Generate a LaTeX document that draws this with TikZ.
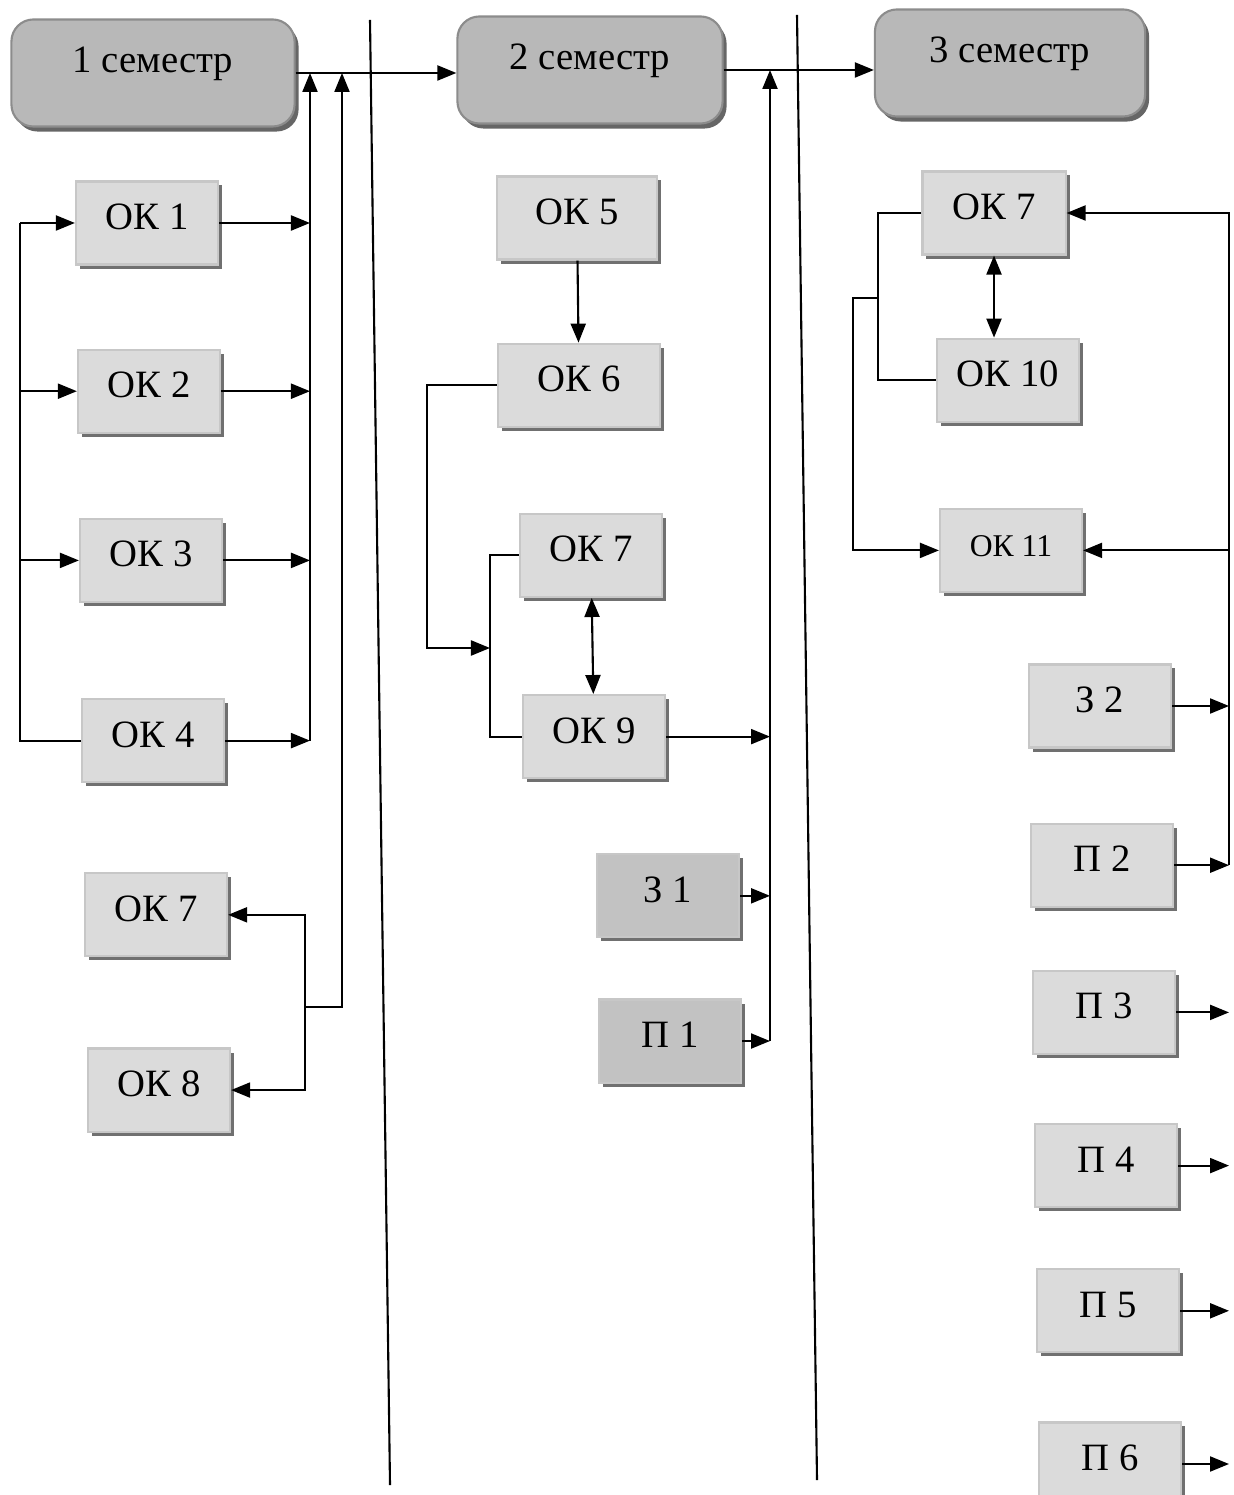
\documentclass[tikz,border=0pt]{standalone}
\usepackage{fontspec}
\setmainfont{Liberation Serif}
\usetikzlibrary{arrows.meta, positioning, shadows}

\begin{document}
\begin{tikzpicture}[x=0.01cm, y=-0.01cm, semithick,
  sembox/.style={rectangle, rounded corners=2.2mm, draw=black!45, fill=black!28,
    minimum width=2.7cm, minimum height=1.07cm, inner sep=0pt,
    text height=3mm, text depth=3mm, font=\fontsize{11}{13}\selectfont,
    drop shadow={shadow xshift=0.4mm, shadow yshift=-0.5mm, fill=black!75, opacity=0.8}},
  okbox/.style={rectangle, draw=black!22, fill=black!14,
    minimum width=1.42cm, minimum height=0.83cm, inner sep=0pt,
    text height=2.8mm, text depth=1.5mm, font=\fontsize{11}{13}\selectfont,
    drop shadow={shadow xshift=0.4mm, shadow yshift=-0.4mm, fill=black!70, opacity=0.8}},
  darkbox/.style={okbox, fill=black!24},
  arr/.style={-{Triangle[length=1.9mm, width=1.5mm]}},
  darr/.style={{Triangle[length=1.9mm, width=1.5mm]}-{Triangle[length=1.9mm, width=1.5mm]}}]
  \useasboundingbox (0,0) rectangle (1233,1495);

  % dividers
  \draw (370,20) -- (390,1485);
  \draw (797,15) -- (817,1480);

  % 1 семестр
  \node[sembox, minimum width=2.83cm] (sem1) at (153,73) {1 семестр};
  \node[okbox] (ok1) at (147,223) {ОК 1};
  \node[okbox] (ok2) [below=8.3mm of ok1, xshift=0.2mm] {ОК 2};
  \node[okbox] (ok3) [below=8.4mm of ok2, xshift=0.2mm] {ОК 3};
  \node[okbox] (ok4) [below=9.5mm of ok3, xshift=0.2mm] {ОК 4};
  \node[okbox] (ok7a) [below=8.9mm of ok4, xshift=0.3mm] {ОК 7};
  \node[okbox] (ok8) [below=9mm of ok7a, xshift=0.3mm] {ОК 8};

  % 2 семестр
  \node[sembox, minimum width=2.65cm] (sem2) at (590,70) {2 семестр};
  \node[okbox, minimum width=1.6cm] (ok5) at (577,218) {ОК 5};
  \node[okbox, minimum width=1.62cm] (ok6) [below=8.2mm of ok5, xshift=0.2mm] {ОК 6};
  \node[okbox] (ok7b) [below=8.5mm of ok6, xshift=1.2mm] {ОК 7};
  \node[okbox] (ok9) [below=9.6mm of ok7b, xshift=0.3mm] {ОК 9};
  \node[darkbox] (z1) [below=7.4mm of ok9, xshift=7.4mm] {З 1};
  \node[darkbox] (p1) [below=6mm of z1, xshift=0.2mm] {П 1};

  % 3 семестр
  \node[sembox] (sem3) at (1010,63) {3 семестр};
  \node[okbox, minimum width=1.43cm] (ok7c) at (994,213) {ОК 7};
  \node[okbox] (ok10) [below=8.2mm of ok7c, xshift=1.4mm] {ОК 10};
  \node[okbox, font=\fontsize{9}{11}\selectfont] (ok11) [below=8.5mm of ok10, xshift=0.3mm] {ОК 11};
  \node[okbox] (z2) at (1100,706) {З 2};
  \node[okbox] (p2) [below=7.4mm of z2, xshift=0.2mm] {П 2};
  \node[okbox] (p3) [below=6.2mm of p2, xshift=0.2mm] {П 3};
  \node[okbox] (p4) [below=6.8mm of p3, xshift=0.2mm] {П 4};
  \node[okbox] (p5) [below=6mm of p4, xshift=0.2mm] {П 5};
  \node[okbox] (p6) [below=6.8mm of p5, xshift=0.2mm] {П 6};

  \coordinate (b1) at (310,73);
  \coordinate (b2) at (342,73);
  \coordinate (lb) at (20,0);
  \coordinate (br1) at (305,1007);
  \coordinate (mb) at (490,648);
  \coordinate (rb) at (770,70);
  \coordinate (rk) at (878,298);
  \coordinate (rr) at (1229,0);

  % first column
  \draw[arr] (sem1.east) -- (sem1.east -| sem2.west);
  \draw (ok4.west) -- (ok4.west -| lb) -- (ok1.west -| lb);
  \foreach \n in {ok1,ok2,ok3}
    \draw[arr] (\n.west -| lb) -- (\n.west);
  \foreach \n in {ok1,ok2,ok3,ok4}
    \draw[arr] (\n.east) -- (\n.east -| b1);
  \draw[arr] (ok4.east -| b1) -- (b1);
  \draw[darr] (ok7a.east) -| (br1) |- (ok8.east);
  \draw[arr] (br1) -| (b2);

  % second column
  \draw[arr] (sem2.east) -- (sem2.east -| sem3.west);
  \draw[arr] (ok5) -- (ok6);
  \draw[arr] (ok6.west) -- ++(-70,0) |- (mb);
  \draw (ok7b.west) -| (mb) |- (ok9.west);
  \draw[darr] (ok7b) -- (ok9);
  \foreach \n in {ok9,z1,p1}
    \draw[arr] (\n.east) -- (\n.east -| rb);
  \draw[arr] (p1.east -| rb) -- (rb);

  % third column
  \draw (ok7c.west) -| (rk) |- (ok10.west);
  \draw[arr] (rk) -- ++(-25,0) |- (ok11.west);
  \draw[darr] (ok7c.south) -- (ok7c.south |- ok10.north);
  \draw[arr] (rr |- p2.east) -- (rr |- ok7c.east) -- (ok7c.east);
  \draw[arr] (rr |- ok11.east) -- (ok11.east);
  \foreach \n in {z2,p2,p3,p4,p5,p6}
    \draw[arr] (\n.east) -- (\n.east -| rr);
\end{tikzpicture}
\end{document}
